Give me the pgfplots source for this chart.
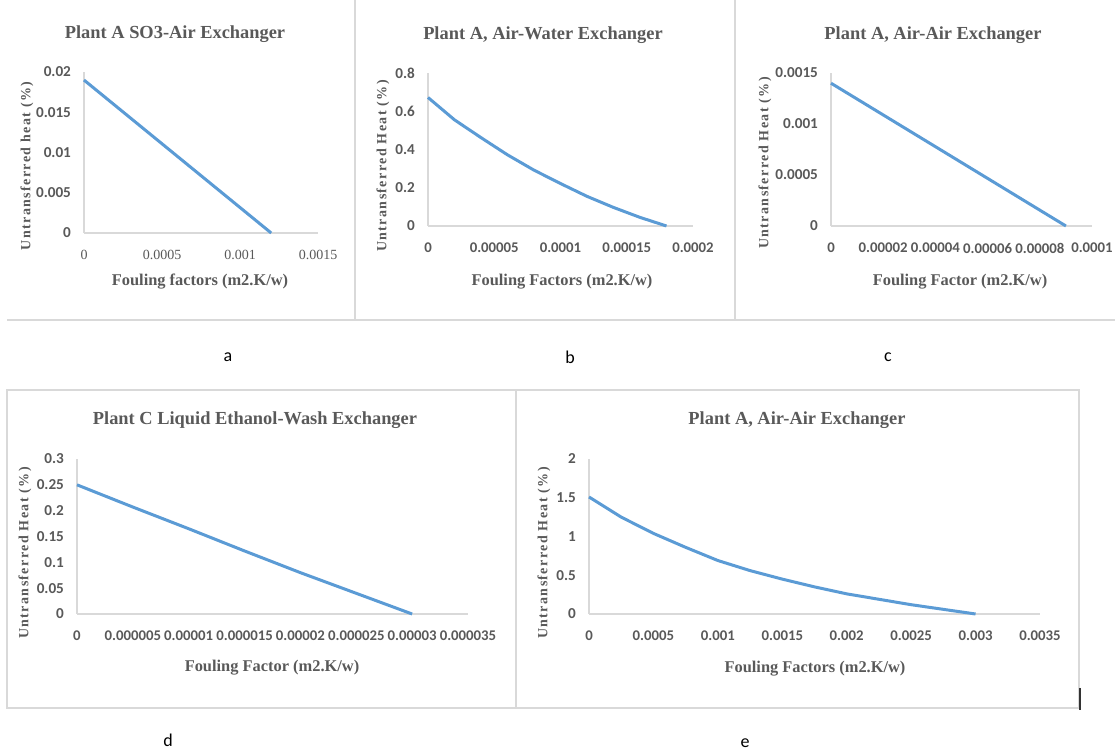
\documentclass[border=0pt]{standalone}
\usepackage{fontspec}
\setmainfont{Liberation Serif}
\newfontfamily\calib{Carlito}
\newfontfamily\ylabf[LetterSpace=10]{Liberation Serif}
\usepackage{pgfplots}
\pgfplotsset{compat=1.18}
\definecolor{txt}{HTML}{595959}
\definecolor{lineblue}{HTML}{5B9BD5}
\definecolor{axgray}{HTML}{D9D9D9}
\definecolor{bd}{HTML}{D9D9D9}
\pgfplotsset{exc/.style={scale only axis, axis lines*=left,
  axis line style={axgray, line width=0.7pt, -},
  major tick length=0pt, tick style={draw=none},
  scaled ticks=false,
  yticklabel style={font=\calib\bfseries\fontsize{7.6}{8}\selectfont, text=txt, xshift=-3pt},
  xticklabel style={font=\calib\bfseries\fontsize{7.4}{8}\selectfont, text=txt, yshift=-5pt},
  clip=false, anchor=south west}}
\pgfplotsset{crv/.style={lineblue, line width=1.5pt, mark=none, line join=round}}
\newcommand{\ttl}{\bfseries\fontsize{9.2}{10}\selectfont\color{txt}}
\newcommand{\xl}{\bfseries\fontsize{8.2}{9}\selectfont\color{txt}}
\newcommand{\yl}{\ylabf\bfseries\fontsize{7}{8}\selectfont\color{txt}}
\newcommand{\cl}{\calib\fontsize{9}{10}\selectfont\color{black}}
\begin{document}
\begin{tikzpicture}
\useasboundingbox (0,0) rectangle (557.5pt,-376.5pt);
% panel a
\begin{axis}[exc, at={(42pt,-116.5pt)}, width=117pt, height=80.5pt,
  xmin=0, xmax=0.0015, ymin=0, ymax=0.02,
  xticklabel style={font=\fontsize{7}{8}\selectfont},
  xtick={0,0.0005,0.001,0.0015}, xticklabels={0,0.0005,0.001,0.0015},
  ytick={0,0.005,0.01,0.015,0.02}, yticklabels={0,0.005,0.01,0.015,0.02}]
\addplot[crv] coordinates {(0,0.019) (0.0012,0)};
\end{axis}
% panel b
\begin{axis}[exc, at={(214pt,-113pt)}, width=132.5pt, height=76.5pt,
  xmin=0, xmax=0.0002, ymin=0, ymax=0.8,
  xtick={0,0.00005,0.0001,0.00015,0.0002}, xticklabels={0,0.00005,0.0001,0.00015,0.0002},
  ytick={0,0.2,0.4,0.6,0.8}, yticklabels={0,0.2,0.4,0.6,0.8}]
\addplot[crv] coordinates {(0,0.672) (0.00002,0.555) (0.00004,0.462) (0.00006,0.372) (0.00008,0.292) (0.0001,0.222) (0.00012,0.155) (0.00014,0.097) (0.00016,0.045) (0.00018,0)};
\end{axis}
% panel c
\begin{axis}[exc, at={(415.5pt,-113pt)}, width=130.5pt, height=76.5pt,
  xmin=0, xmax=0.0001, ymin=0, ymax=0.0015,
  xtick={0,0.00002,0.00004,0.00006,0.00008,0.0001}, xticklabels={0,0.00002,0.00004,0.00006,0.00008,0.0001},
  ytick={0,0.0005,0.001,0.0015}, yticklabels={0,0.0005,0.001,0.0015}]
\addplot[crv] coordinates {(0,0.0014) (0.00009,0)};
\end{axis}
% panel d
\begin{axis}[exc, at={(38.5pt,-307pt)}, width=195.5pt, height=77.5pt,
  xmin=0, xmax=0.000035, ymin=0, ymax=0.3,
  xtick={0,0.000005,0.00001,0.000015,0.00002,0.000025,0.00003,0.000035},
  xticklabels={0,0.000005,0.00001,0.000015,0.00002,0.000025,0.00003,0.000035},
  ytick={0,0.05,0.1,0.15,0.2,0.25,0.3}, yticklabels={0,0.05,0.1,0.15,0.2,0.25,0.3}]
\addplot[crv] coordinates {(0,0.25) (0.000005,0.207) (0.00001,0.165) (0.000015,0.122) (0.00002,0.08) (0.000025,0.04) (0.00003,0)};
\end{axis}
% panel e
\begin{axis}[exc, at={(294.5pt,-307pt)}, width=225.5pt, height=77.5pt,
  xmin=0, xmax=0.0035, ymin=0, ymax=2,
  xtick={0,0.0005,0.001,0.0015,0.002,0.0025,0.003,0.0035},
  xticklabels={0,0.0005,0.001,0.0015,0.002,0.0025,0.003,0.0035},
  ytick={0,0.5,1,1.5,2}, yticklabels={0,0.5,1,1.5,2}]
\addplot[crv] coordinates {(0,1.51) (0.00025,1.25) (0.0005,1.04) (0.00075,0.86) (0.001,0.69) (0.00125,0.56) (0.0015,0.45) (0.00175,0.35) (0.002,0.26) (0.00225,0.19) (0.0025,0.12) (0.00275,0.06) (0.003,0)};
\end{axis}
\begin{scope}[x=0.5pt,y=-0.5pt]
% borders
\draw[bd, line width=0.6pt] (7,320) -- (1115,320);
\draw[bd, line width=0.6pt] (355,0) -- (355,320);
\draw[bd, line width=0.6pt] (735,0) -- (735,320);
\draw[bd, line width=0.6pt] (7,390) rectangle (1079,708);
\draw[bd, line width=0.6pt] (516,390) -- (516,708);
\draw[black!80, line width=0.6pt] (1080,688) -- (1080,710);
% titles
\node at (175,34) {\ttl Plant A SO3-Air Exchanger};
\node at (543,35) {\ttl Plant A, Air-Water Exchanger};
\node at (933,35) {\ttl Plant A, Air-Air Exchanger};
\node at (255,420) {\ttl Plant C Liquid Ethanol-Wash Exchanger};
\node at (797,420) {\ttl Plant A, Air-Air Exchanger};
% x labels
\node at (200,282) {\xl Fouling factors (m2.K/w)};
\node at (562,282) {\xl Fouling Factors (m2.K/w)};
\node at (960,282) {\xl Fouling Factor (m2.K/w)};
\node at (272,668) {\xl Fouling Factor (m2.K/w)};
\node at (815,669) {\xl Fouling Factors (m2.K/w)};
% y labels
\node[rotate=90] at (27,166) {\yl Untransferred heat (\%)};
\node[rotate=90] at (383,166) {\yl Untransferred Heat (\%)};
\node[rotate=90] at (765,163) {\yl Untransferred Heat (\%)};
\node[rotate=90] at (25,553) {\yl Untransferred Heat (\%)};
\node[rotate=90] at (544,553) {\yl Untransferred Heat (\%)};
% panel letters
\node at (228,357) {\cl a};
\node at (570,357) {\cl b};
\node at (888,357) {\cl c};
\node at (168,740) {\cl d};
\node at (745,743) {\cl e};
\end{scope}
\end{tikzpicture}
\end{document}
